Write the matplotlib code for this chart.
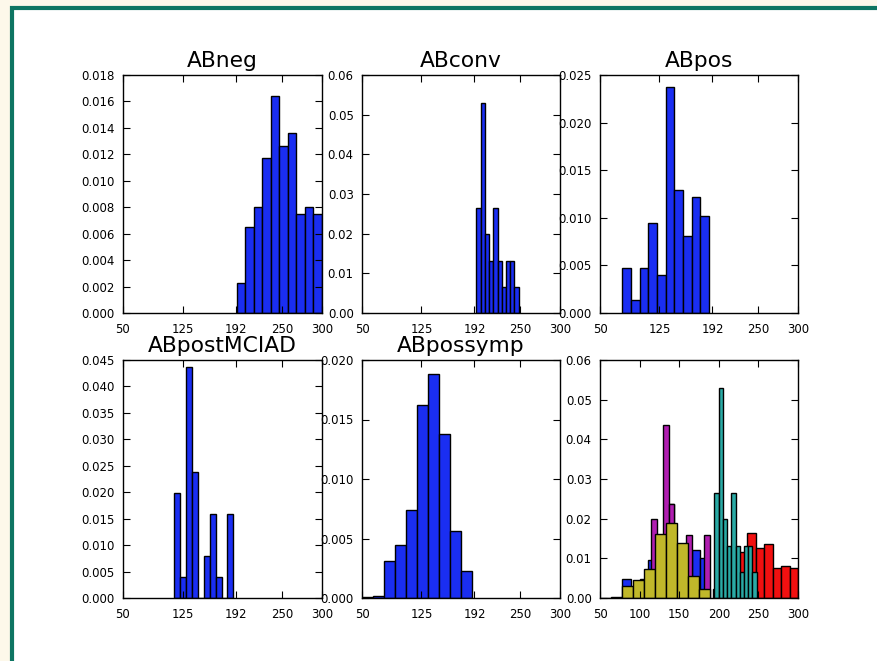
import numpy as np
import matplotlib
matplotlib.use("Agg")
import matplotlib.pyplot as plt
from matplotlib.patches import Rectangle

# ---- data (density histograms, 10 bins each) ----
titles = ["ABneg", "ABconv", "ABpos", "ABpostMCIAD", "ABpossymp"]

abneg_range = (193.0, 300.0)
abneg_heights = [0.0023, 0.0065, 0.0080, 0.0117, 0.0164, 0.0126, 0.0136, 0.0075, 0.0080, 0.0075]

abconv_range = (194.3, 247.9)
abconv_heights = [0.0264, 0.0530, 0.0198, 0.0132, 0.0264, 0.0132, 0.0066, 0.0132, 0.0132, 0.0066]

abpos_range = (78.2, 187.4)
abpos_heights = [0.0047, 0.0014, 0.0047, 0.0095, 0.0040, 0.0237, 0.0129, 0.0081, 0.0122, 0.0102]

abpostmciad_range = (114.3, 188.7)
abpostmciad_heights = [0.0198, 0.0039, 0.0437, 0.0238, 0.0, 0.0080, 0.0159, 0.0039, 0.0, 0.0159]

abpossymp_range = (50.0, 188.4)
abpossymp_heights = [0.00006, 0.0002, 0.00315, 0.00445, 0.0074, 0.0162, 0.0188, 0.0138, 0.0056, 0.0023]

series_ranges = [abneg_range, abconv_range, abpos_range, abpostmciad_range, abpossymp_range]
series_heights = [abneg_heights, abconv_heights, abpos_heights, abpostmciad_heights, abpossymp_heights]
overlay_colors = ["#f21010", "#2aaaa5", "#1a2ef2", "#b01eb0", "#c0b82a"]
single_color = "#1a2ef2"

xticks_single = [50, 125, 192, 250, 300]
xticks_overlay = [50, 100, 150, 200, 250, 300]

ylims = [0.018, 0.06, 0.025, 0.045, 0.020, 0.06]
ysteps = [0.002, 0.01, 0.005, 0.005, 0.005, 0.01]
yfmts = ["%.3f", "%.2f", "%.3f", "%.3f", "%.3f", "%.2f"]

# ---- figure ----
W, H = 877, 661
fig = plt.figure(figsize=(W / 100, H / 100), dpi=100)
fig.patch.set_facecolor("#fdf8ea")
fig.patches.append(Rectangle((12 / W, -0.05), 1.2, 1 - 8 / H + 0.05, transform=fig.transFigure,
                             facecolor="white", edgecolor="#0e7562", linewidth=3.0, zorder=-10))

cols = [(123, 322), (362, 560), (600, 798)]
rows = [(75, 313), (360, 598)]


def make_ax(r, c):
    x0, x1 = cols[c]
    y0, y1 = rows[r]
    return fig.add_axes([x0 / W, 1 - y1 / H, (x1 - x0) / W, (y1 - y0) / H])


def style_ax(ax, i, xticks):
    ax.set_xlim(50, 300)
    ax.set_ylim(0, ylims[i])
    ax.set_xticks(xticks)
    ax.set_xticklabels([str(t) for t in xticks])
    yt = np.arange(0, ylims[i] + ysteps[i] / 2, ysteps[i])
    ax.set_yticks(yt)
    ax.set_yticklabels([yfmts[i] % v for v in yt])
    ax.tick_params(direction="in", top=True, right=True, length=5, width=0.8,
                   labelsize=8.5, colors="black")
    ax.tick_params(axis="y", pad=6)
    ax.tick_params(axis="x", pad=7.5)
    for s in ax.spines.values():
        s.set_linewidth(1.0)
        s.set_color("black")


def draw_hist(ax, rng, heights, color):
    edges = np.linspace(rng[0], rng[1], len(heights) + 1)
    ax.hist(edges[:-1], bins=edges, weights=heights, color=color,
            edgecolor="black", linewidth=1.0, histtype="bar")


for i in range(5):
    ax = make_ax(i // 3, i % 3)
    draw_hist(ax, series_ranges[i], series_heights[i], single_color)
    style_ax(ax, i, xticks_single)
    ax.set_title(titles[i], fontsize=15.7, pad=5.5)

ax = make_ax(1, 2)
for rng, h, col in zip(series_ranges, series_heights, overlay_colors):
    draw_hist(ax, rng, h, col)
style_ax(ax, 5, xticks_overlay)

fig.savefig("out.png", dpi=100, facecolor=fig.get_facecolor())
